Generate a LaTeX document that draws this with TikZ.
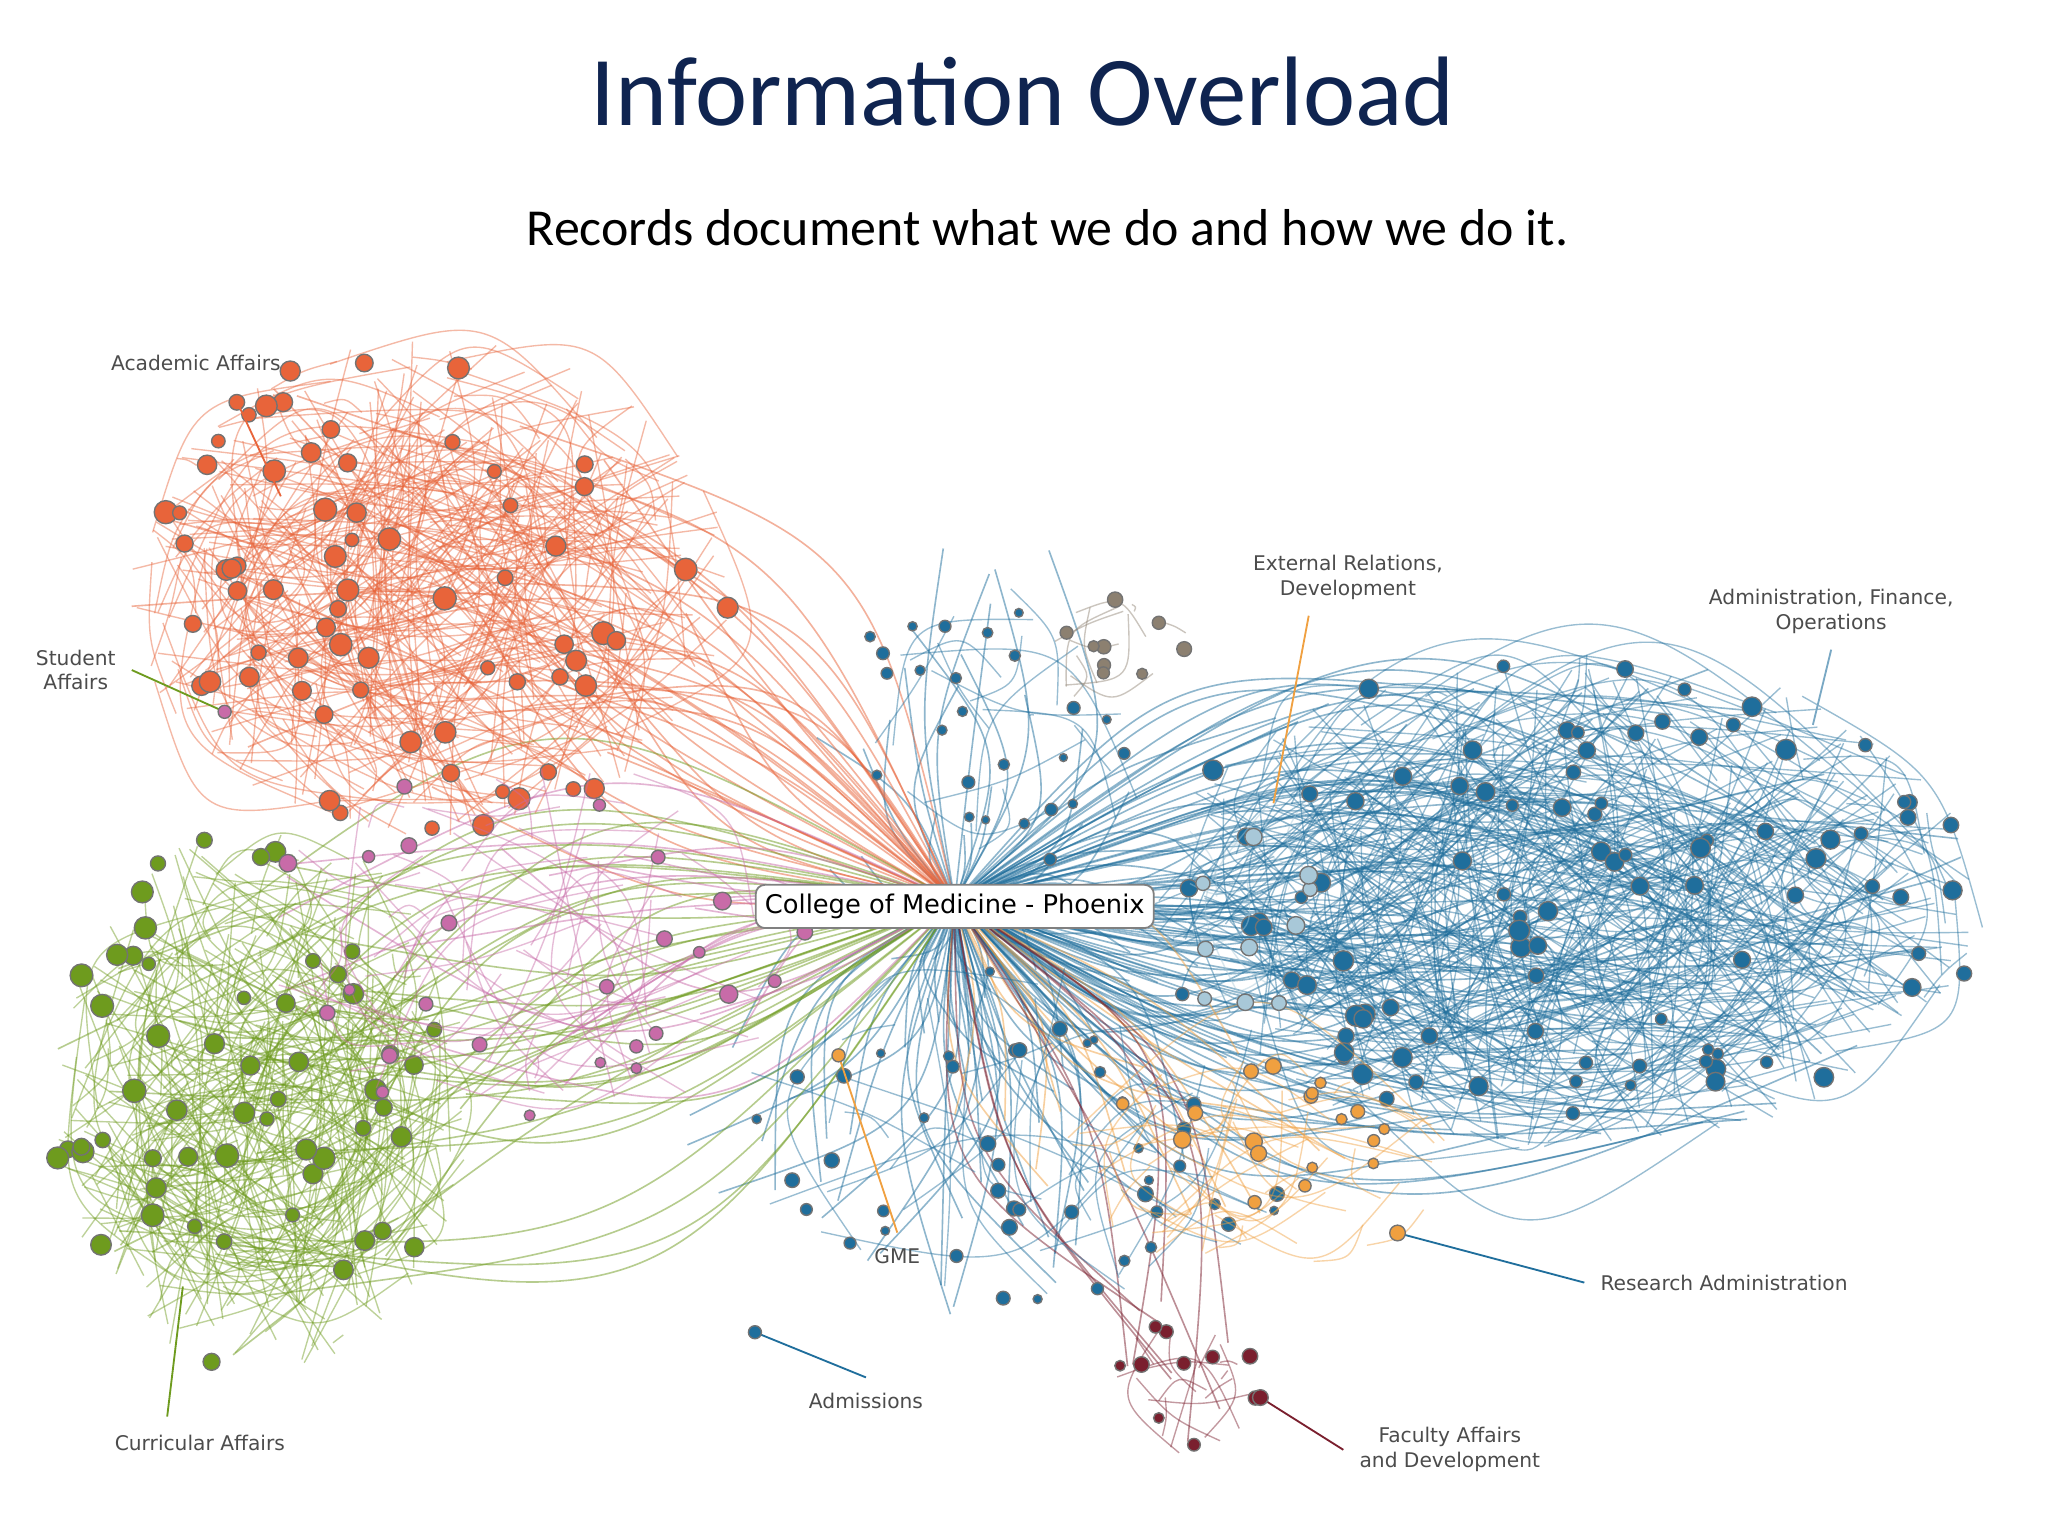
\documentclass[tikz,border=0pt]{standalone}
\usepackage{fontspec}
\setmainfont{Carlito}
\newfontfamily\lab{DejaVu Sans}
\definecolor{navy}{HTML}{0F2450}
\definecolor{corg}{HTML}{E8643A}
\definecolor{cgrn}{HTML}{6E9B1E}
\definecolor{cpnk}{HTML}{C86BA8}
\definecolor{cblu}{HTML}{1F6E9C}
\definecolor{corl}{HTML}{F0A040}
\definecolor{cred}{HTML}{7A1F2E}
\definecolor{cgry}{HTML}{8C8070}
\definecolor{clbl}{HTML}{A8C8D8}
\newcommand\clus[9]{%
 \foreach \i in {1,...,#7}{%
  \pgfmathsetmacro\aa{360*rnd}\pgfmathsetmacro\ra{sqrt(rnd)}%
  \pgfmathsetmacro\xa{#2+#4*\ra*cos(\aa)}\pgfmathsetmacro\ya{#3+#5*\ra*sin(\aa)}%
  \pgfmathsetmacro\ab{360*rnd}\pgfmathsetmacro\rb{sqrt(rnd)}%
  \pgfmathsetmacro\xb{#2+#4*\rb*cos(\ab)}\pgfmathsetmacro\yb{#3+#5*\rb*sin(\ab)}%
  \pgfmathsetmacro\k{0.5*rand}%
  \pgfmathsetmacro\xc{(\xa+\xb)/2-\k*(\yb-\ya)}\pgfmathsetmacro\yc{(\ya+\yb)/2+\k*(\xb-\xa)}%
  \draw[#1,opacity=0.45,line width=0.3pt] (\xa,\ya) .. controls (\xc,\yc) .. (\xb,\yb);}%
 \foreach \i in {1,...,#6}{%
  \pgfmathsetmacro\aa{360*rnd}\pgfmathsetmacro\ra{sqrt(rnd)}%
  \pgfmathsetmacro\xa{#2+#4*\ra*cos(\aa)}\pgfmathsetmacro\ya{#3+#5*\ra*sin(\aa)}%
  \pgfmathsetmacro\rr{#8+#9*rnd}%
  \fill[#1,draw=black!55,line width=0.3pt] (\xa,\ya) circle[radius=\rr];}}
\newcommand\spokes[6]{%
 \foreach \i in {1,...,#6}{%
  \pgfmathsetmacro\aa{360*rnd}\pgfmathsetmacro\ra{sqrt(rnd)}%
  \pgfmathsetmacro\xa{#2+#4*\ra*cos(\aa)}\pgfmathsetmacro\ya{#3+#5*\ra*sin(\aa)}%
  \pgfmathsetmacro\k{0.35*rand}%
  \pgfmathsetmacro\xc{(731+\xa)/2-\k*(\ya-690)}\pgfmathsetmacro\yc{(690+\ya)/2+\k*(\xa-731)}%
  \draw[#1,opacity=0.5,line width=0.35pt] (731,690) .. controls (\xc,\yc) .. (\xa,\ya);}}
\begin{document}
\begin{tikzpicture}[x=0.01cm,y=-0.01cm]
\fill[white] (0,0) rectangle (1568,1176);
\useasboundingbox (0,0) rectangle (1568,1176);
\pgfmathsetseed{7}
\node[navy,font=\fontsize{21.5}{24}\selectfont] (title) at (783,70) {Information Overload};
\node[font=\fontsize{11.3}{13}\selectfont] (sub) at (802,174) {Records document what we do and how we do it.};
% spokes from center
\spokes{cblu}{1190}{690}{330}{190}{110}
\spokes{cblu}{780}{600}{160}{220}{40}
\spokes{cblu}{720}{880}{200}{130}{50}
\spokes{corg}{330}{450}{230}{180}{35}
\spokes{cgrn}{200}{840}{160}{200}{40}
\spokes{cpnk}{400}{720}{220}{130}{20}
\spokes{corl}{900}{880}{180}{80}{15}
\spokes{cred}{910}{1050}{60}{60}{10}
% clusters
\clus{corg}{330}{450}{230}{190}{70}{300}{5}{4}
\clus{cgrn}{200}{840}{160}{210}{55}{260}{5}{4}
\clus{cpnk}{410}{720}{210}{140}{26}{50}{4}{3}
\clus{cblu}{1200}{690}{320}{190}{95}{380}{4}{4}
\clus{cblu}{780}{870}{220}{140}{45}{30}{3}{3}
\clus{cblu}{760}{560}{130}{110}{25}{15}{3}{2}
\clus{corl}{960}{890}{150}{80}{18}{40}{4}{3}
\clus{cred}{910}{1060}{60}{55}{10}{15}{4}{2}
\clus{cgry}{860}{500}{60}{45}{9}{10}{4}{2}
\clus{clbl}{960}{690}{60}{100}{10}{10}{5}{2}
% center label
\node[draw=black!50,fill=white,rounded corners=2pt,inner sep=2pt,font=\lab\fontsize{5.6}{6}\selectfont] (com) at (731,694) {College of Medicine - Phoenix};
% labels
\tikzset{lb/.style={font=\lab\fontsize{4.4}{5.4}\selectfont,text=black!70,align=center}}
\node[lb] (aa) at (150,278) {Academic Affairs};
\coordinate (aa2) at (215,380); \draw[corg] (aa.south) ++(30,8) -- (aa2);
\node[lb] (sa) at (58,513) {Student\\Affairs};
\coordinate (sa2) at (172,545); \draw[cgrn] (sa.east) -- (sa2);
\fill[cpnk,draw=black!55,line width=0.3pt] (sa2) circle[radius=5];
\node[lb] (er) at (1032,442) {External Relations,\\Development};
\coordinate (er2) at (975,615); \draw[corl] (er.south) ++(-30,0) -- (er2);
\node[lb] (ad) at (1402,468) {Administration, Finance,\\Operations};
\coordinate (ad2) at (1388,555); \draw[cblu!60] (ad.south) -- (ad2);
\node[lb] (ra) at (1320,982) {Research Administration};
\coordinate (ra2) at (1070,944); \draw[cblu] (ra.west) -- (ra2);
\fill[corl,draw=black!55,line width=0.3pt] (ra2) circle[radius=6];
\node[lb] (gme) at (687,962) {GME};
\coordinate (gme2) at (642,808); \draw[corl] (gme.north) -- (gme2);
\fill[corl,draw=black!55,line width=0.3pt] (gme2) circle[radius=5];
\node[lb] (adm) at (663,1073) {Admissions};
\coordinate (adm2) at (578,1020); \draw[cblu] (adm.north) -- (adm2);
\fill[cblu,draw=black!55,line width=0.3pt] (adm2) circle[radius=5];
\node[lb] (fa) at (1110,1110) {Faculty Affairs\\and Development};
\coordinate (fa2) at (965,1070); \draw[cred] (fa.west) -- (fa2);
\fill[cred,draw=black!55,line width=0.3pt] (fa2) circle[radius=6];
\node[lb] (ca) at (153,1105) {Curricular Affairs};
\coordinate (ca2) at (140,985); \draw[cgrn] (ca.north) ++(-25,-2) -- (ca2);
\end{tikzpicture}
\end{document}
